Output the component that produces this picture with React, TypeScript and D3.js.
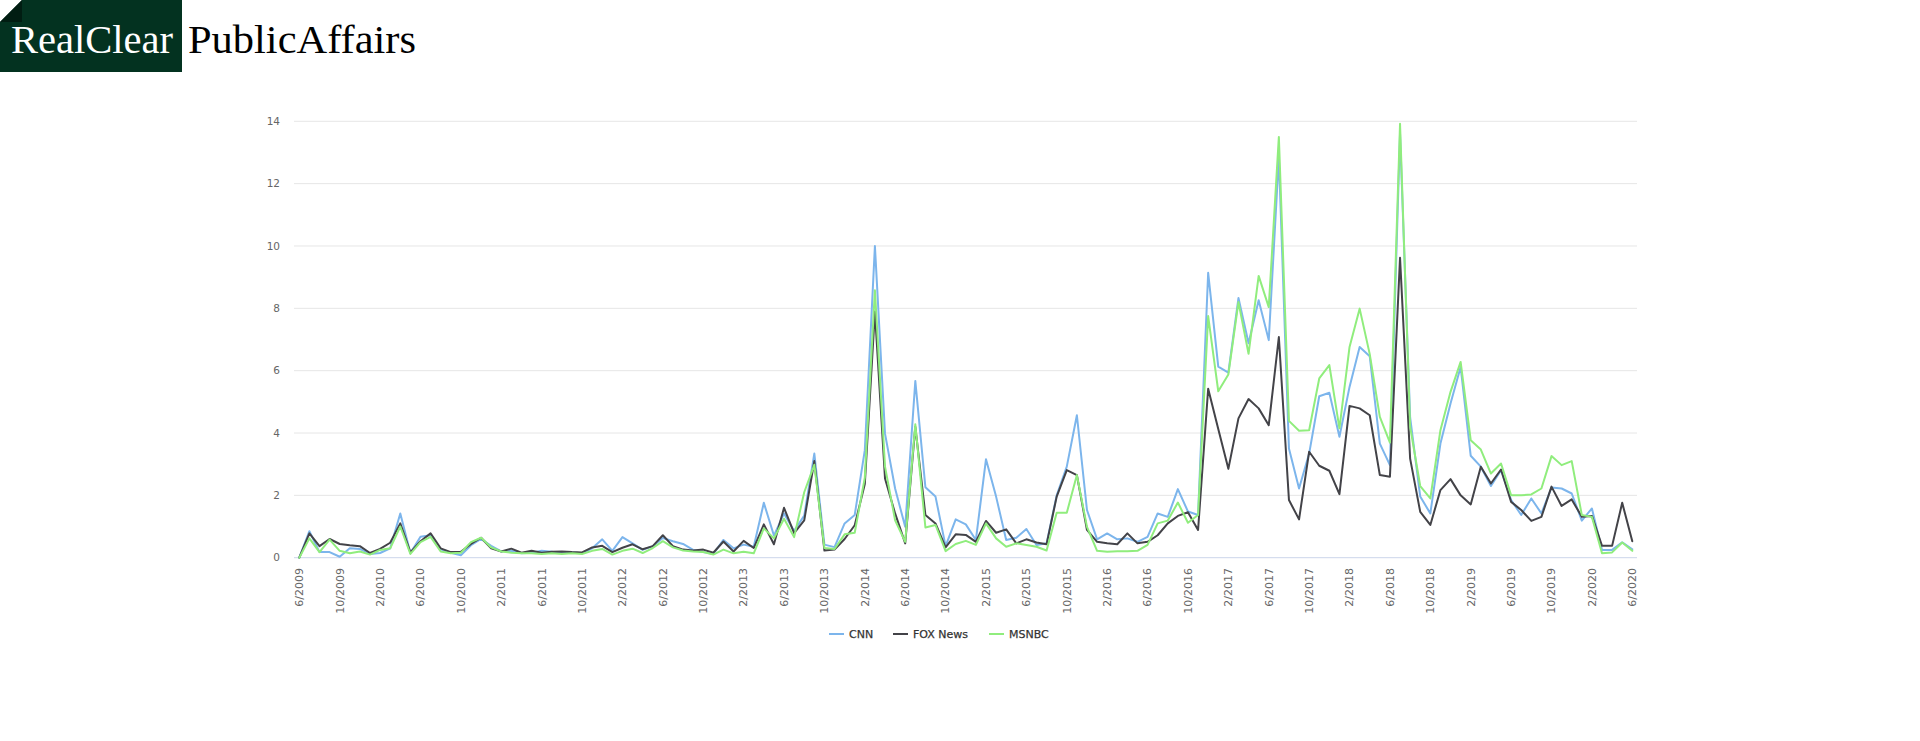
import React from "react";
import * as d3 from "d3";

const startMonth = 6;
const startYear = 2009;

const cnn: number[] = [
  0, 0.85, 0.18, 0.18, 0.03, 0.3, 0.28, 0.12, 0.15, 0.3,
  1.42, 0.15, 0.67, 0.72, 0.27, 0.16, 0.08, 0.4, 0.6, 0.38,
  0.2, 0.22, 0.14, 0.16, 0.22, 0.19, 0.14, 0.17, 0.14, 0.3,
  0.59, 0.22, 0.66, 0.46, 0.25, 0.37, 0.63, 0.53, 0.44, 0.25,
  0.18, 0.12, 0.57, 0.3, 0.42, 0.35, 1.76, 0.71, 1.42, 0.86,
  1.35, 3.34, 0.42, 0.34, 1.1, 1.37, 3.45, 10.0, 3.98, 2.22,
  0.99, 5.67, 2.26, 1.96, 0.37, 1.23, 1.07, 0.57, 3.16, 1.96,
  0.57, 0.64, 0.92, 0.41, 0.46, 2.0, 2.92, 4.57, 1.53, 0.59,
  0.78, 0.59, 0.62, 0.51, 0.67, 1.42, 1.31, 2.2, 1.48, 1.37,
  9.14, 6.13, 5.94, 8.33, 6.88, 8.26, 6.98, 12.85, 3.5, 2.22,
  3.34, 5.18, 5.29, 3.88, 5.48, 6.76, 6.46, 3.66, 2.97, 13.6,
  4.5, 1.96, 1.42, 3.66, 4.95, 6.12, 3.27, 2.92, 2.3, 2.81,
  1.85, 1.37, 1.9, 1.42, 2.25, 2.22, 2.06, 1.19, 1.58, 0.25,
  0.25, 0.49, 0.27,
];

const fox: number[] = [
  0, 0.78, 0.37, 0.6, 0.44, 0.4, 0.37, 0.15, 0.28, 0.48,
  1.1, 0.17, 0.53, 0.78, 0.3, 0.18, 0.19, 0.44, 0.64, 0.3,
  0.2, 0.29, 0.16, 0.22, 0.16, 0.19, 0.2, 0.18, 0.17, 0.33,
  0.38, 0.18, 0.32, 0.43, 0.27, 0.37, 0.72, 0.37, 0.26, 0.23,
  0.26, 0.16, 0.52, 0.2, 0.54, 0.31, 1.07, 0.43, 1.6, 0.79,
  1.2, 3.1, 0.23, 0.26, 0.6, 1.04, 2.36, 7.9, 2.54, 1.42,
  0.46, 4.2, 1.37, 1.1, 0.33, 0.75, 0.73, 0.51, 1.18, 0.8,
  0.91, 0.46, 0.59, 0.49, 0.43, 1.96, 2.81, 2.65, 0.89, 0.51,
  0.46, 0.43, 0.78, 0.46, 0.51, 0.72, 1.1, 1.34, 1.46, 0.89,
  5.42, 4.13, 2.85, 4.47, 5.09, 4.79, 4.25, 7.08, 1.85, 1.23,
  3.4, 2.95, 2.79, 2.04, 4.87, 4.79, 4.57, 2.65, 2.6, 9.62,
  3.18, 1.47, 1.05, 2.17, 2.52, 2.0, 1.71, 2.92, 2.38, 2.83,
  1.79, 1.53, 1.18, 1.31, 2.28, 1.66, 1.87, 1.31, 1.34, 0.38,
  0.38, 1.76, 0.53,
];

const msnbc: number[] = [
  0, 0.62, 0.18, 0.58, 0.22, 0.14, 0.2, 0.1, 0.25, 0.3,
  1.0, 0.12, 0.5, 0.67, 0.2, 0.14, 0.16, 0.5, 0.64, 0.33,
  0.2, 0.16, 0.14, 0.14, 0.12, 0.14, 0.12, 0.14, 0.12, 0.22,
  0.28, 0.1, 0.22, 0.29, 0.15, 0.31, 0.53, 0.33, 0.23, 0.2,
  0.18, 0.1, 0.26, 0.14, 0.19, 0.14, 0.94, 0.62, 1.25, 0.66,
  2.1, 2.98, 0.31, 0.28, 0.75, 0.8, 2.57, 8.58, 2.92, 1.2,
  0.51, 4.28, 0.97, 1.05, 0.21, 0.44, 0.54, 0.41, 1.1, 0.62,
  0.35, 0.46, 0.41, 0.35, 0.23, 1.44, 1.44, 2.65, 0.99, 0.22,
  0.19, 0.21, 0.21, 0.22, 0.41, 1.1, 1.19, 1.77, 1.12, 1.37,
  7.75, 5.34, 5.88, 8.2, 6.54, 9.04, 8.04, 13.5, 4.39, 4.07,
  4.09, 5.75, 6.18, 4.15, 6.76, 7.99, 6.53, 4.52, 3.69, 13.92,
  4.2, 2.3, 1.9, 4.09, 5.32, 6.28, 3.77, 3.47, 2.7, 3.02,
  2.0, 2.0, 2.03, 2.22, 3.26, 2.97, 3.1, 1.37, 1.31, 0.14,
  0.17, 0.49, 0.22,
];

const seriesNames = ["CNN", "FOX News", "MSNBC"];
const seriesColors = ["#7cb5ec", "#434348", "#90ed7d"];
const yTicks = [0, 2, 4, 6, 8, 10, 12, 14];

const months: string[] = cnn.map((_, i) => {
  const m0 = startMonth - 1 + i;
  const m = (m0 % 12) + 1;
  const y = startYear + Math.floor(m0 / 12);
  return `${m}/${y}`;
});

export default function App() {
  const W = 1920;
  const H = 741;
  const plotLeft = 294;
  const plotRight = 1637;
  const x = d3.scaleLinear().domain([0, months.length - 1]).range([299.3, 1632.3]);
  const y = d3.scaleLinear().domain([0, 14]).range([557.7, 121.3]);
  const line = d3
    .line<number>()
    .x((_, i) => x(i))
    .y((d) => y(d));
  const allSeries = [cnn, fox, msnbc];
  const font = "'DejaVu Sans', Verdana, sans-serif";

  const legendItems = [
    { sx: 829, tx: 849 },
    { sx: 893, tx: 913 },
    { sx: 989, tx: 1009 },
  ];

  return (
    <svg
      width={W}
      height={H}
      viewBox={`0 0 ${W} ${H}`}
      style={{ position: "absolute", left: 0, top: 0, background: "#ffffff" }}
    >
      <rect x={0} y={0} width={W} height={H} fill="#ffffff" />
      {/* Logo */}
      <polygon points="22,0 182,0 182,72 0,72 0,22" fill="#033220" />
      <polygon points="22,0 22,22 0,22" fill="#011d12" />
      <text
        x={11}
        y={53}
        fontFamily="'Liberation Serif', 'DejaVu Serif', serif"
        fontSize={41}
        fill="#ffffff"
        textLength={162}
        lengthAdjust="spacingAndGlyphs"
      >
        RealClear
      </text>
      <text
        x={188}
        y={53}
        fontFamily="'Liberation Serif', 'DejaVu Serif', serif"
        fontSize={41}
        fill="#000000"
        textLength={228}
        lengthAdjust="spacingAndGlyphs"
      >
        PublicAffairs
      </text>

      {/* grid */}
      {yTicks.map((t) => (
        <line
          key={`g${t}`}
          x1={plotLeft}
          x2={plotRight}
          y1={y(t)}
          y2={y(t)}
          stroke={t === 0 ? "#ccd6eb" : "#e6e6e6"}
          strokeWidth={1}
        />
      ))}
      {yTicks.map((t) => (
        <text
          key={`yl${t}`}
          x={280}
          y={y(t)}
          dy="0.35em"
          textAnchor="end"
          fontFamily={font}
          fontSize={10.5}
          fill="#666666"
        >
          {t}
        </text>
      ))}

      {/* x labels */}
      {months.map((m, i) =>
        i % 4 === 0 ? (
          <text
            key={`xl${i}`}
            transform={`translate(${x(i)},568) rotate(-90)`}
            dy="0.35em"
            textAnchor="end"
            fontFamily={font}
            fontSize={11}
            fill="#666666"
          >
            {m}
          </text>
        ) : null
      )}

      {/* series */}
      {allSeries.map((s, k) => (
        <path
          key={`s${k}`}
          d={line(s) || ""}
          fill="none"
          stroke={seriesColors[k]}
          strokeWidth={2}
          strokeLinejoin="round"
          strokeLinecap="round"
        />
      ))}

      {/* legend */}
      {seriesNames.map((n, k) => (
        <g key={`lg${k}`}>
          <line
            x1={legendItems[k].sx}
            x2={legendItems[k].sx + 15}
            y1={634}
            y2={634}
            stroke={seriesColors[k]}
            strokeWidth={2}
          />
          <text
            x={legendItems[k].tx}
            y={634}
            dy="0.35em"
            fontFamily={font}
            fontSize={11}
            fill="#333333"
            stroke="#333333"
            strokeWidth={0.25}
          >
            {n}
          </text>
        </g>
      ))}
    </svg>
  );
}
